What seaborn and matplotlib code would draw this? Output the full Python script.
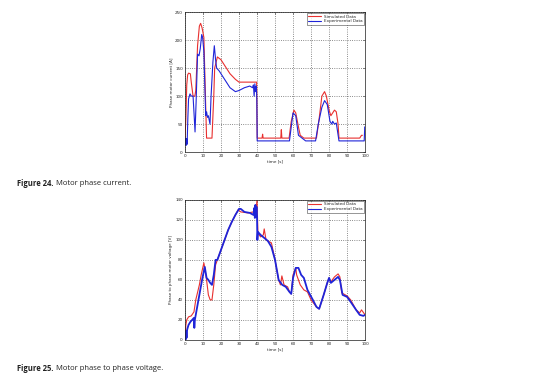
import matplotlib
matplotlib.use("Agg")
from matplotlib import pyplot as plt
import pandas as pd
import seaborn as sns

# Figure 24 - motor phase current [A]
cur_sim_t = [0, 0.5, 1, 1.5, 2, 3, 3.5, 4.5, 5.5, 6, 7, 8, 8.7, 9.5, 10.5, 11.2, 12, 13, 14, 15,
             16, 16.5, 18, 20, 22, 25, 28, 30, 35, 39.8, 40.1, 42.8, 43.1, 43.4, 53.2, 53.5, 53.8,
             57.8, 59, 60.5, 61.5, 63, 64, 66, 73, 74.5, 76, 77.5, 78.5, 80, 81, 82, 83, 84, 85,
             85.5, 97, 98, 98.5]
cur_sim = [21, 60, 120, 138, 141, 140, 125, 100, 100, 110, 190, 225, 230, 222, 205, 120, 25, 25, 25, 25,
           100, 150, 170, 165, 155, 140, 130, 125, 125, 125, 25, 25, 32, 25, 25, 40, 25,
           25, 55, 75, 70, 45, 30, 25, 25, 60, 100, 108, 100, 75, 65, 70, 75, 72, 50,
           25, 25, 30, 30]

cur_exp_t = [0, 0.3, 0.6, 0.9, 1.2, 1.6, 2, 2.8, 3.5, 4.5, 5.2, 5.6, 6.2, 7, 7.8, 8.5, 9.3, 9.8, 10.5,
             11.5, 12, 12.5, 13, 13.9, 14.5, 15.5, 16.3, 17, 17.6, 19, 22, 25, 28, 30, 33, 36, 37.5,
             38, 38.4, 38.8, 39.2, 39.6, 39.9, 40.1, 58, 59, 60, 61.5, 63, 65, 67, 72.5, 74, 76,
             77.5, 79, 80.5, 81.5, 82, 83, 84, 85.5, 99.5, 99.8, 100]
cur_exp = [15, 25, 12, 24, 14, 60, 95, 104, 100, 100, 60, 36, 90, 175, 172, 185, 210, 205, 180,
           65, 72, 62, 65, 50, 100, 160, 190, 165, 150, 145, 130, 115, 108, 110, 115, 118, 115,
           120, 100, 122, 108, 118, 95, 20, 20, 45, 70, 65, 30, 25, 20, 20, 50, 80,
           92, 85, 55, 50, 55, 50, 52, 20, 20, 45, 45]

# Figure 25 - motor phase to phase voltage [V]
volt_sim_t = [0, 0.5, 1, 2, 3.5, 5, 6, 8, 9, 10.5, 11, 12, 13, 14, 15, 16, 17, 18, 20, 22, 24, 26,
              28, 29.5, 31, 35, 38, 39.5, 40, 40.5, 42, 43.5, 44, 45, 48, 50, 52, 53, 53.8, 55,
              57, 58, 59, 60, 61.5, 62, 64, 66, 68, 70, 73, 74.5, 77, 79, 80, 81, 83, 85, 86,
              87, 90, 92, 95, 97, 98, 100]
volt_sim = [0, 15, 20, 23, 24, 28, 40, 55, 65, 77, 72, 60, 45, 40, 40, 55, 75, 80, 90, 100, 110, 118,
            125, 130, 128, 127, 128, 130, 140, 107, 103, 105, 111, 100, 97, 80, 60, 55, 64, 55,
            53, 48, 46, 65, 72, 65, 55, 50, 48, 40, 33, 31, 45, 57, 62, 58, 63, 66, 63,
            47, 44, 40, 30, 27, 30, 25]

volt_exp_t = [0, 0.3, 0.6, 0.9, 1.2, 1.5, 2, 3, 4, 5, 5.2, 5.5, 6.5, 8, 9.5, 11, 12, 13, 14, 15,
              16, 17, 18, 20, 22, 24, 26, 28, 30, 31, 33, 36, 38, 38.5, 38.8, 39.1, 39.4, 39.7,
              40, 40.2, 40.5, 42, 44, 46, 48, 50, 52, 54, 56, 58, 59, 60, 61.5, 63, 64.5, 66,
              68, 71, 73, 74.5, 77, 79, 80, 81, 83, 85, 86, 87.5, 90, 92, 95, 97, 99, 100]
volt_exp = [5, 0, 9, 2, 10, 12, 15, 18, 20, 22, 12, 20, 30, 45, 60, 73, 62, 60, 57, 55,
            65, 80, 80, 90, 100, 110, 118, 125, 131, 131, 128, 127, 125, 132, 122, 135, 123, 133,
            124, 100, 108, 105, 102, 99, 93, 80, 60, 55, 53, 48, 46, 62, 72, 72, 65, 62,
            50, 40, 33, 31, 45, 57, 62, 57, 60, 63, 60, 45, 43, 38, 30, 25, 24, 25]

series_names = ["Simulated Data", "Experimental Data"]
series_colors = ["#e8302f", "#1f24d8"]


def long_frame(t_sim, y_sim, t_exp, y_exp):
    a = pd.DataFrame({"t": t_sim, "y": y_sim, "series": series_names[0]})
    b = pd.DataFrame({"t": t_exp, "y": y_exp, "series": series_names[1]})
    return pd.concat([a, b], ignore_index=True)


def style_axis(ax, ylim, yticks, ylabel):
    ax.set_xlim(0, 100)
    ax.set_ylim(*ylim)
    ax.set_xticks(range(0, 101, 10))
    ax.set_yticks(yticks)
    ax.grid(True, color="k", linestyle=(0, (1.5, 2.5)), linewidth=0.4)
    ax.tick_params(direction="in", labelsize=3, length=1.5, width=0.4, pad=1.5,
                   top=True, right=True)
    for s in ax.spines.values():
        s.set_linewidth(0.5)
        s.set_color("k")
    ax.set_xlabel("time [s]", fontsize=3, labelpad=1)
    ax.set_ylabel(ylabel, fontsize=3, labelpad=1.5)
    leg = ax.legend(loc="upper right", fontsize=3, frameon=True, fancybox=False,
                    handlelength=3, borderpad=0.3, labelspacing=0.2, borderaxespad=0.3)
    leg.get_frame().set_edgecolor("k")
    leg.get_frame().set_linewidth(0.4)


def caption(fig, x, y, bold, rest):
    t = fig.text(x, y, bold, fontsize=5.5, fontweight="bold", family="Open Sans",
                 color="#222222", va="center")
    fig.axes[0].annotate(rest, xy=(1, 0.5), xycoords=t, xytext=(2, 0), textcoords="offset points",
                         fontsize=5.5, family="Open Sans", color="#222222", va="center", ha="left",
                         annotation_clip=False)


sns.set_theme(style="white")
fig = plt.figure(figsize=(5.33, 3.92), dpi=100)
ax1 = fig.add_axes([0.347, 0.612, 0.338, 0.357])
ax2 = fig.add_axes([0.347, 0.133, 0.338, 0.357])

df_cur = long_frame(cur_sim_t, cur_sim, cur_exp_t, cur_exp)
sns.lineplot(data=df_cur, x="t", y="y", hue="series", palette=series_colors, ax=ax1,
             linewidth=0.8, estimator=None, sort=False)
style_axis(ax1, (0, 250), range(0, 251, 50), "Phase motor current [A]")

df_volt = long_frame(volt_sim_t, volt_sim, volt_exp_t, volt_exp)
sns.lineplot(data=df_volt, x="t", y="y", hue="series", palette=series_colors, ax=ax2,
             linewidth=0.8, estimator=None, sort=False)
ax2.lines[1].set_linewidth(1.3)
style_axis(ax2, (0, 140), range(0, 141, 20), "Phase to phase motor voltage [V]")

caption(fig, 0.032, 0.533, "Figure 24.", "Motor phase current.")
caption(fig, 0.032, 0.059, "Figure 25.", "Motor phase to phase voltage.")

fig.savefig("out.png", dpi=100)
